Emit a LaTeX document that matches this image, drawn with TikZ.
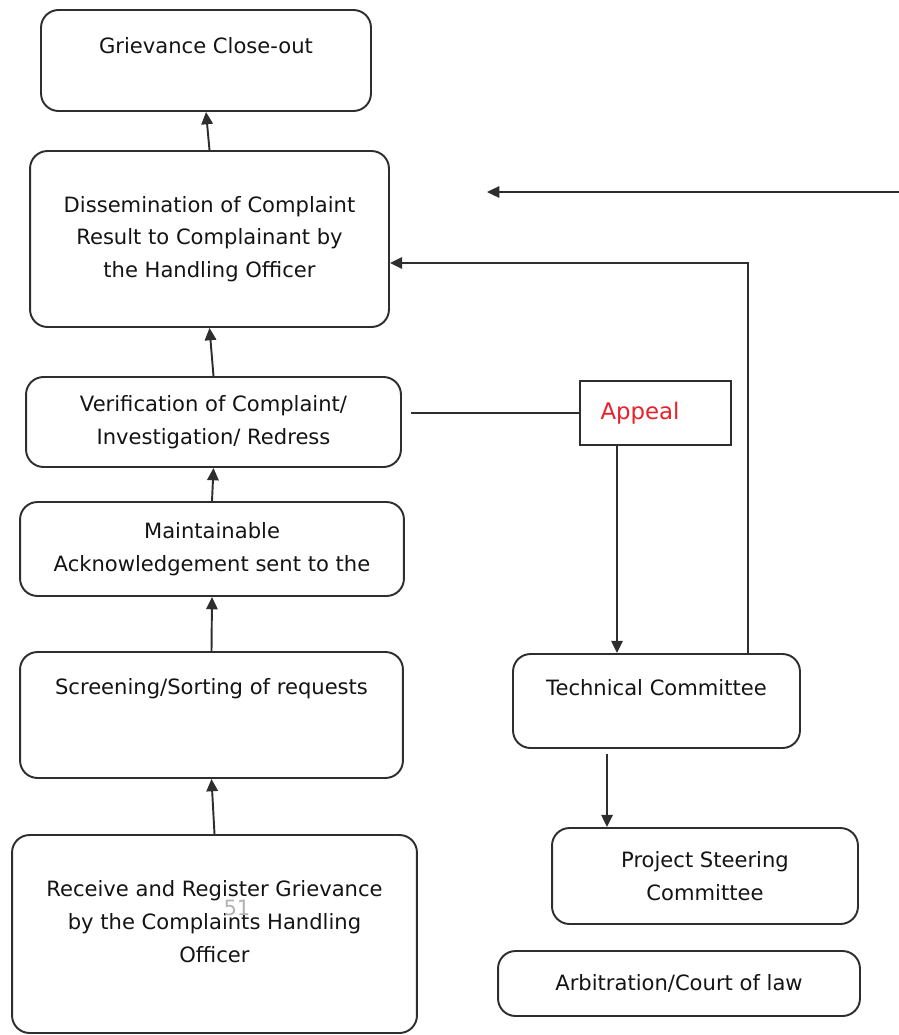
\documentclass[tikz,border=0pt]{standalone}
\usepackage{fontspec}
\setmainfont{DejaVu Sans}
\usetikzlibrary{arrows.meta}
\definecolor{linegray}{HTML}{2E2E2E}
\definecolor{appealred}{HTML}{E8202A}

\begin{document}
\begin{tikzpicture}[x=0.02cm, y=-0.02cm,
        stage/.style={draw=linegray, line width=1.1pt, rounded corners=0.35cm, align=center,
            inner sep=0pt, text=black!92, font=\fontsize{12}{18.6}\selectfont},
        arr/.style={draw=linegray, line width=1.1pt, -{Triangle[length=7pt,width=6.5pt]}}]
            \useasboundingbox (0,0) rectangle (899,1035);
            % left column, bottom to top
            \node[stage, minimum width=8.1cm, text height=2.54cm, text depth=1.42cm] (receive) at (214.5,934) {Receive and Register Grievance\\by the Complaints Handling\\Officer};
            \node[text=gray!60, font=\fontsize{12}{14}\selectfont] (pagenum) at (237,908) {51};
            \node[stage, minimum width=7.66cm, text height=0.84cm, text depth=1.68cm] (screen) at (211.5,715) {Screening/Sorting of requests};
            \node[stage, minimum width=7.68cm, minimum height=1.88cm] (maint) at (212,549) {Maintainable\\Acknowledgement sent to the};
            \node[stage, minimum width=7.5cm, minimum height=1.8cm] (verify) at (213.5,422) {Verification of Complaint/\\Investigation/ Redress};
            \node[stage, minimum width=7.18cm, minimum height=3.52cm] (dissem) at (209.5,239) {Dissemination of Complaint\\Result to Complainant by\\the Handling Officer};
            \node[stage, minimum width=6.6cm, text height=0.86cm, text depth=1.16cm] (close) at (206,60.5) {Grievance Close-out};
            % right column
            \node[draw=linegray, line width=1.1pt, minimum width=3.02cm, minimum height=1.28cm, inner sep=0pt,
                text=appealred, font=\fontsize{13}{15}\selectfont] (appeal) at (655.5,413) {Appeal\kern0.62cm};
            \node[stage, minimum width=5.74cm, text height=0.82cm, text depth=1.06cm] (tech) at (656.5,701) {Technical Committee};
            \node[stage, minimum width=6.12cm, minimum height=1.92cm] (steer) at (705,876) {Project Steering\\Committee};
            \node[stage, minimum width=7.24cm, minimum height=1.3cm] (arbit) at (679,983.5) {Arbitration/Court of law};
            \coordinate (feedin) at (899,192);
            \coordinate (feedout) at (487,192);

            \draw[arr] (receive.north) -- (screen.south);
            \draw[arr] (screen.north) -- (maint.south);
            \draw[arr] (maint.north) -- (verify.south);
            \draw[arr] (verify.north) -- (dissem.south);
            \draw[arr] (dissem.north) -- (close.south);
            \draw[draw=linegray, line width=1.1pt] ([xshift=0.18cm]verify.east |- appeal.west) -- (appeal.west);
            \draw[arr] ([xshift=-0.77cm]appeal.south) -- ([xshift=-0.77cm]appeal.south |- tech.north);
            \draw[arr] ([xshift=1.83cm]tech.north) |- ([yshift=-0.48cm]dissem.east);
            \draw[arr] ([xshift=-0.99cm,yshift=-0.1cm]tech.south) -- ([xshift=-0.99cm]tech.south |- steer.north);
            \draw[arr] (feedin) -- (feedout);
        \end{tikzpicture}
\end{document}
